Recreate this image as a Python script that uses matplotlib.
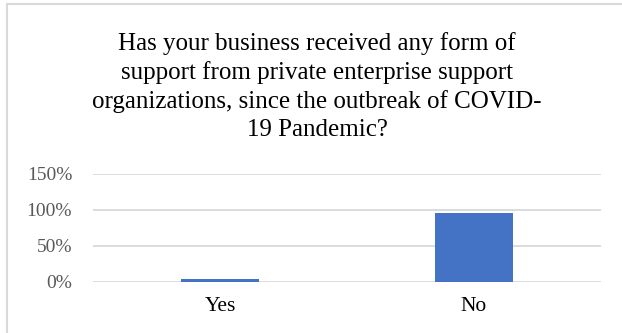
import matplotlib
matplotlib.use("Agg")
import matplotlib.pyplot as plt
from matplotlib.patches import Rectangle
from matplotlib.ticker import FuncFormatter

categories = ["Yes", "No"]
shares = [0.04, 0.96]
y_ticks = [0, 0.5, 1.0, 1.5]

title = ("Has your business received any form of\n"
         "support from private enterprise support\n"
         "organizations, since the outbreak of COVID-\n"
         "19 Pandemic?")

W, H = 622, 333
fig = plt.figure(figsize=(W / 100, H / 100), dpi=100)
fig.patch.set_facecolor("white")

ax = fig.add_axes([93 / W, (H - 282) / H, (601 - 93) / W, (282 - 174) / H])
x = list(range(len(categories)))
ax.bar(x, shares, width=0.31, color="#4472C4", zorder=3)

ax.set_xlim(-0.5, 1.5)
ax.set_ylim(0, 1.5)
ax.set_yticks(y_ticks)
ax.yaxis.set_major_formatter(FuncFormatter(lambda v, _: f"{v * 100:.0f}%"))
ax.set_xticks(x)
ax.set_xticklabels(categories)

ax.grid(axis="y", color="#d9d9d9", linewidth=1.3, zorder=0)
ax.grid(axis="x", visible=False)
for s in ax.spines.values():
    s.set_visible(False)
ax.tick_params(axis="both", length=0)
ax.tick_params(axis="y", pad=15, labelsize=14, labelcolor="#595959")
ax.tick_params(axis="x", pad=11, labelsize=15.5, labelcolor="#000000")
for lbl in ax.get_xticklabels() + ax.get_yticklabels():
    lbl.set_fontfamily("Liberation Serif")

# multi-line title, anchored on the baseline of its last line
fig.text(317 / W, 1 - 136 / H, title, ha="center", va="baseline",
         multialignment="center", fontsize=18,
         fontfamily="Liberation Serif", color="#000000", linespacing=1.34)

# chart area frame
fig.add_artist(Rectangle((6.5 / W, -0.05), 1.0, 1 - 3.5 / H + 0.05,
                         transform=fig.transFigure, fill=False,
                         edgecolor="#d9d9d9", linewidth=1.5))

fig.savefig("out.png", dpi=100)
